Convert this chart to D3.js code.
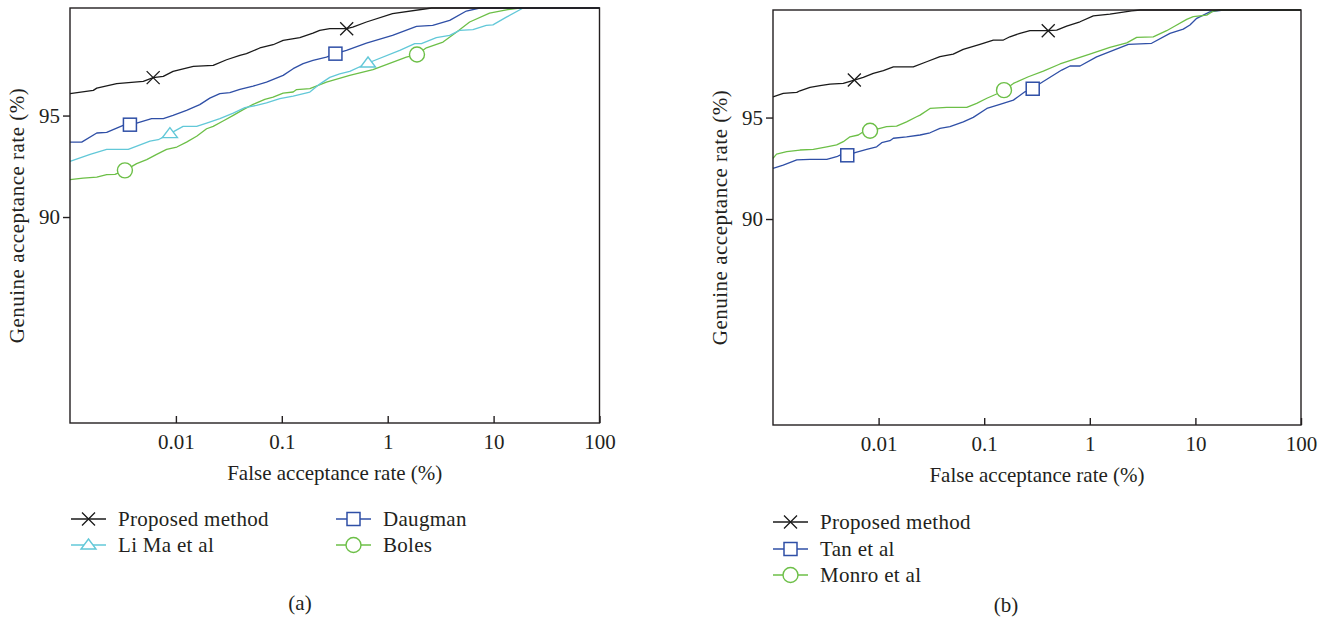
<!DOCTYPE html>
<html>
<head>
<meta charset="utf-8">
<script src="https://cdn.jsdelivr.net/npm/d3@7"></script>
<style>
  body { margin: 0; background: #fff; }
  text { font-family: "Liberation Serif", "Times New Roman", serif; fill: #231f20; }
</style>
</head>
<body>
<script>
// ---- data (FAR %, GAR %) ----
var xTicks = [0.01, 0.1, 1, 10, 100];
var yTicks = [90, 95];

var proposedA = [[0.001,96.08],[0.00166,96.24],[0.00179,96.35],[0.00276,96.57],[0.00492,96.68],[0.0061,96.87],[0.0076,96.93],[0.0094,97.18],[0.0146,97.42],[0.0225,97.47],[0.0301,97.75],[0.0402,97.97],[0.0464,98.05],[0.062,98.33],[0.0828,98.49],[0.103,98.7],[0.148,98.84],[0.197,99.06],[0.228,99.2],[0.284,99.28],[0.41,99.28],[0.468,99.36],[0.63,99.61],[1.11,100.02],[2.6,100.3],[100,100.3]];
var daugmanA = [[0.001,93.69],[0.00129,93.69],[0.00179,94.14],[0.00222,94.17],[0.00276,94.38],[0.00318,94.52],[0.00368,94.55],[0.00426,94.63],[0.0059,94.85],[0.0076,94.85],[0.0094,95.01],[0.0126,95.26],[0.0168,95.54],[0.0209,95.86],[0.026,96.08],[0.0323,96.13],[0.0402,96.29],[0.0536,96.45],[0.0717,96.65],[0.103,96.98],[0.128,97.31],[0.159,97.56],[0.197,97.72],[0.264,97.88],[0.321,98.05],[0.408,98.21],[0.63,98.57],[1.11,98.95],[1.87,99.39],[2.66,99.44],[3.85,99.69],[5.53,100.15],[7.4,100.3],[100,100.3]];
var liMaA = [[0.001,92.74],[0.00155,93.09],[0.00222,93.33],[0.00355,93.33],[0.00569,93.74],[0.00681,93.81],[0.00878,94.11],[0.0117,94.47],[0.0157,94.47],[0.0195,94.63],[0.026,94.85],[0.0348,95.12],[0.0448,95.39],[0.0577,95.5],[0.0717,95.62],[0.0958,95.83],[0.128,95.96],[0.184,96.16],[0.228,96.55],[0.284,96.88],[0.352,97.05],[0.438,97.18],[0.652,97.59],[1.3,98.21],[1.8,98.54],[2.08,98.54],[2.88,98.84],[3.85,98.95],[4.78,99.2],[6.38,99.23],[8.53,99.44],[9.85,99.47],[13.2,99.85],[19,100.3],[100,100.3]];
var bolesA = [[0.001,91.84],[0.00133,91.92],[0.00179,91.97],[0.00222,92.09],[0.00266,92.1],[0.0033,92.3],[0.00426,92.63],[0.0053,92.83],[0.00658,93.09],[0.00817,93.33],[0.0102,93.45],[0.0126,93.69],[0.0157,93.98],[0.0195,94.35],[0.0225,94.47],[0.0279,94.73],[0.0348,95.01],[0.0432,95.29],[0.0536,95.55],[0.0691,95.8],[0.0828,95.91],[0.103,96.11],[0.128,96.16],[0.138,96.28],[0.184,96.33],[0.264,96.65],[0.438,96.98],[0.726,97.26],[1.5,97.88],[1.89,98.01],[2.32,98.34],[3.33,98.62],[4.45,99.11],[5.94,99.61],[9.16,100.05],[13.6,100.22],[17.6,100.3],[100,100.3]];

var proposedB = [[0.001,96.02],[0.00125,96.19],[0.00168,96.24],[0.0018,96.32],[0.00224,96.49],[0.00279,96.57],[0.00347,96.65],[0.00463,96.68],[0.00589,96.85],[0.00716,96.98],[0.00891,97.18],[0.0111,97.31],[0.0138,97.5],[0.0213,97.5],[0.0285,97.75],[0.0381,98.0],[0.0509,98.13],[0.0633,98.36],[0.0912,98.61],[0.122,98.82],[0.152,98.82],[0.175,98.98],[0.218,99.15],[0.271,99.28],[0.404,99.28],[0.486,99.31],[0.604,99.51],[0.808,99.72],[1.08,100.01],[1.55,100.1],[2.49,100.26],[3.0,100.3],[100,100.3]];
var tanB = [[0.001,92.5],[0.00125,92.66],[0.00168,92.91],[0.00224,92.94],[0.00323,92.94],[0.00401,93.07],[0.00431,93.15],[0.00505,93.14],[0.00598,93.27],[0.00771,93.43],[0.00959,93.56],[0.0107,93.76],[0.0128,93.86],[0.0138,93.98],[0.0184,94.05],[0.0247,94.14],[0.0307,94.25],[0.0381,94.47],[0.0474,94.55],[0.0634,94.79],[0.0788,95.01],[0.106,95.45],[0.141,95.65],[0.189,95.86],[0.243,96.27],[0.288,96.42],[0.338,96.68],[0.542,97.34],[0.649,97.54],[0.808,97.54],[1.16,97.99],[2.32,98.61],[3.85,98.66],[5.74,99.15],[7.68,99.36],[8.88,99.56],[10.3,99.89],[13.7,100.21],[18.4,100.3],[100,100.3]];
var monroB = [[0.001,92.99],[0.00108,93.2],[0.00135,93.32],[0.0018,93.4],[0.00241,93.43],[0.00323,93.56],[0.00401,93.65],[0.00463,93.81],[0.00536,94.05],[0.00643,94.14],[0.00716,94.3],[0.0083,94.35],[0.0103,94.47],[0.0119,94.55],[0.0148,94.58],[0.0184,94.79],[0.0229,95.04],[0.0247,95.12],[0.0307,95.45],[0.0442,95.5],[0.0683,95.5],[0.0849,95.7],[0.106,95.95],[0.131,96.16],[0.154,96.35],[0.189,96.68],[0.262,97.01],[0.363,97.29],[0.522,97.64],[1.0,98.13],[1.55,98.46],[2.24,98.68],[2.78,98.95],[3.99,98.98],[5.34,99.28],[6.41,99.51],[8.27,99.84],[9.55,99.97],[12.8,100.05],[14.8,100.25],[17.1,100.3],[100,100.3]];

// marker positions (as drawn on each curve)
var proposedAMarks = [[0.0061,96.87],[0.41,99.28]];
var daugmanAMarks = [[0.00368,94.55],[0.321,98.05]];
var liMaAMarks = [[0.00878,94.11],[0.652,97.59]];
var bolesAMarks = [[0.0033,92.3],[1.89,98.01]];
var proposedBMarks = [[0.00589,96.85],[0.404,99.28]];
var tanBMarks = [[0.00505,93.14],[0.288,96.42]];
var monroBMarks = [[0.0083,94.35],[0.154,96.35]];

var black = "#1a1a1a", blue = "#2f4fa6", cyan = "#62c8d8", green = "#6cbf47";

var panels = [
  {
    left: 70, top: 8, right: 599.5, bottom: 423, caption: "(a)", capX: 300, capY: 610,
    series: [
      { name: "Boles", data: bolesA, marks: bolesAMarks, color: green, shape: "circle" },
      { name: "Li Ma et al", data: liMaA, marks: liMaAMarks, color: cyan, shape: "triangle" },
      { name: "Daugman", data: daugmanA, marks: daugmanAMarks, color: blue, shape: "square" },
      { name: "Proposed method", data: proposedA, marks: proposedAMarks, color: black, shape: "x" }
    ],
    legend: [
      { name: "Proposed method", color: black, shape: "x", x: 71, y: 519 },
      { name: "Li Ma et al", color: cyan, shape: "triangle", x: 71, y: 545 },
      { name: "Daugman", color: blue, shape: "square", x: 336, y: 519 },
      { name: "Boles", color: green, shape: "circle", x: 336, y: 545 }
    ]
  },
  {
    left: 773, top: 10, right: 1301, bottom: 425, caption: "(b)", capX: 1006, capY: 612,
    series: [
      { name: "Tan et al", data: tanB, marks: tanBMarks, color: blue, shape: "square" },
      { name: "Monro et al", data: monroB, marks: monroBMarks, color: green, shape: "circle" },
      { name: "Proposed method", data: proposedB, marks: proposedBMarks, color: black, shape: "x" }
    ],
    legend: [
      { name: "Proposed method", color: black, shape: "x", x: 773, y: 522 },
      { name: "Tan et al", color: blue, shape: "square", x: 773, y: 549 },
      { name: "Monro et al", color: green, shape: "circle", x: 773, y: 575 }
    ]
  }
];

var svg = d3.select("body").append("svg")
    .attr("width", 1333)
    .attr("height", 617);

function drawMarker(g, shape, color, cx, cy) {
  if (shape === "x") {
    g.append("path")
        .attr("d", "M" + (cx - 6.5) + "," + (cy - 6.5) + "L" + (cx + 6.5) + "," + (cy + 6.5) +
                   "M" + (cx - 6.5) + "," + (cy + 6.5) + "L" + (cx + 6.5) + "," + (cy - 6.5))
        .attr("stroke", color).attr("stroke-width", 1.3).attr("fill", "none");
  } else if (shape === "square") {
    g.append("rect")
        .attr("x", cx - 6.5).attr("y", cy - 6.5).attr("width", 13).attr("height", 13)
        .attr("fill", "#fff").attr("stroke", color).attr("stroke-width", 1.5);
  } else if (shape === "triangle") {
    g.append("path")
        .attr("d", "M" + cx + "," + (cy - 6) + "L" + (cx + 7.5) + "," + (cy + 4) + "L" + (cx - 7.5) + "," + (cy + 4) + "Z")
        .attr("fill", "#fff").attr("stroke", color).attr("stroke-width", 1.4);
  } else {
    g.append("circle")
        .attr("cx", cx).attr("cy", cy).attr("r", 7.5)
        .attr("fill", "#fff").attr("stroke", color).attr("stroke-width", 1.4);
  }
}

panels.forEach(function (p) {
  var x = d3.scaleLog().domain([0.001, 100]).range([p.left, p.right]);
  var y = d3.scaleLinear().domain([79.85, 100.3]).range([p.bottom, p.top]);

  var line = d3.line()
      .x(function (d) { return x(d[0]); })
      .y(function (d) { return y(d[1]); });

  var g = svg.append("g");

  // curves
  p.series.forEach(function (s) {
    g.append("path")
        .datum(s.data)
        .attr("d", line)
        .attr("fill", "none")
        .attr("stroke", s.color)
        .attr("stroke-width", 1.3)
        .attr("stroke-linejoin", "round");
  });
  p.series.forEach(function (s) {
    s.marks.forEach(function (m) {
      drawMarker(g, s.shape, s.color, x(m[0]), y(m[1]));
    });
  });

  // frame
  g.append("rect")
      .attr("x", p.left).attr("y", p.top)
      .attr("width", p.right - p.left).attr("height", p.bottom - p.top)
      .attr("fill", "none").attr("stroke", "#231f20").attr("stroke-width", 1.4);

  // x axis: ticks point inward
  var xa = g.append("g")
      .attr("transform", "translate(0," + p.bottom + ")")
      .call(d3.axisBottom(x).tickValues(xTicks).tickSize(-7).tickPadding(11)
          .tickFormat(function (d) { return String(d); }));
  xa.select(".domain").remove();
  xa.selectAll("line").attr("stroke", "#231f20").attr("stroke-width", 1.4);
  xa.selectAll("text").attr("font-size", 21).attr("fill", "#231f20")
      .style("font-family", "'Liberation Serif', serif");

  // y axis: ticks point outward
  var ya = g.append("g")
      .attr("transform", "translate(" + p.left + ",0)")
      .call(d3.axisLeft(y).tickValues(yTicks).tickSize(7).tickPadding(3));
  ya.select(".domain").remove();
  ya.selectAll("line").attr("stroke", "#231f20").attr("stroke-width", 1.4);
  ya.selectAll("text").attr("font-size", 21).attr("fill", "#231f20")
      .style("font-family", "'Liberation Serif', serif");

  // titles
  g.append("text")
      .attr("x", (p.left + p.right) / 2)
      .attr("y", p.bottom + 57)
      .attr("text-anchor", "middle")
      .attr("font-size", 21)
      .attr("letter-spacing", 0)
      .text("False acceptance rate (%)");

  g.append("text")
      .attr("transform", "translate(" + (p.left - 46) + "," + ((p.top + p.bottom) / 2) + ") rotate(-90)")
      .attr("text-anchor", "middle")
      .attr("font-size", 21)
      .attr("letter-spacing", 0.5)
      .text("Genuine acceptance rate (%)");

  // legend
  p.legend.forEach(function (l) {
    g.append("line")
        .attr("x1", l.x).attr("x2", l.x + 35)
        .attr("y1", l.y).attr("y2", l.y)
        .attr("stroke", l.color).attr("stroke-width", 1.3);
    drawMarker(g, l.shape, l.color, l.x + 17.5, l.y);
    g.append("text")
        .attr("x", l.x + 47)
        .attr("y", l.y + 7)
        .attr("font-size", 21)
        .attr("letter-spacing", 0.3)
        .text(l.name);
  });

  g.append("text")
      .attr("x", p.capX)
      .attr("y", p.capY)
      .attr("text-anchor", "middle")
      .attr("font-size", 21)
      .text(p.caption);
});
</script>
</body>
</html>
